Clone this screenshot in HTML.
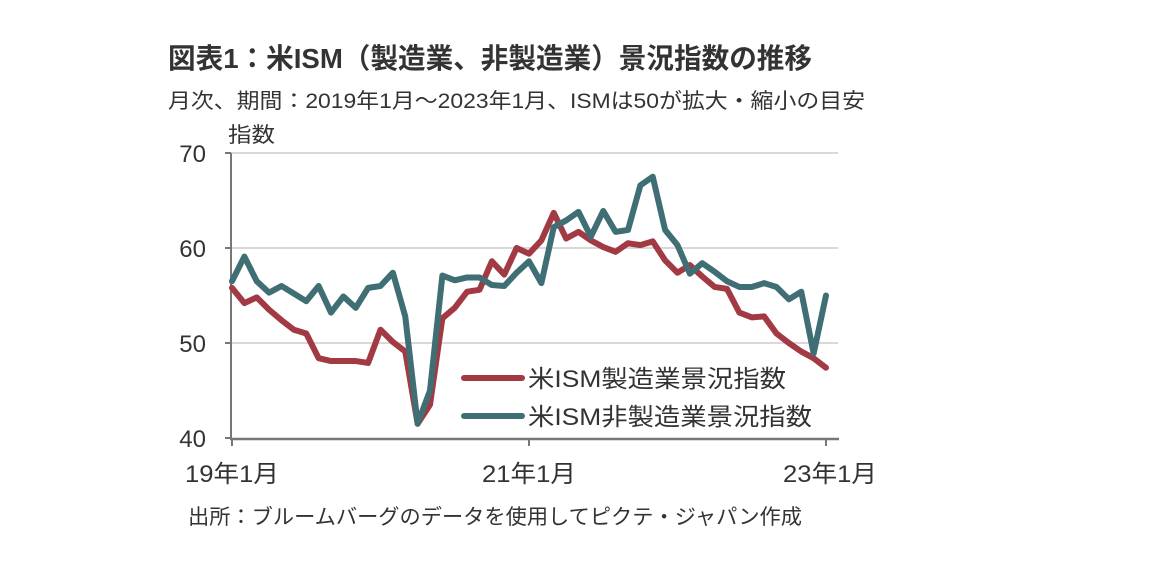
<!DOCTYPE html>
<html><head><meta charset="utf-8"><style>
html,body{margin:0;padding:0;background:#fff;width:1152px;height:580px;overflow:hidden}
svg{display:block}
text{font-family:"Liberation Sans","Noto Sans CJK JP",sans-serif;fill:#333}
</style></head><body>
<svg id="chart" width="1152" height="580">
<text x="168" y="68" font-size="28" font-weight="bold" textLength="644" lengthAdjust="spacingAndGlyphs">図表1：米ISM（製造業、非製造業）景況指数の推移</text>
<text x="168" y="108" font-size="21" textLength="697" lengthAdjust="spacingAndGlyphs">月次、期間：2019年1月～2023年1月、ISMは50が拡大・縮小の目安</text>
<text x="228" y="142" font-size="21" textLength="47" lengthAdjust="spacingAndGlyphs">指数</text>
<g id="grid"></g><g id="axes"></g><g id="lines"></g>
<g>
<line x1="464" y1="378" x2="522" y2="378" stroke="#a23a44" stroke-width="6" stroke-linecap="round"/>
<text x="528" y="387" font-size="24" textLength="258" lengthAdjust="spacingAndGlyphs">米ISM製造業景況指数</text>
<line x1="464" y1="416" x2="522" y2="416" stroke="#3f6f74" stroke-width="6" stroke-linecap="round"/>
<text x="528" y="425" font-size="24" textLength="284" lengthAdjust="spacingAndGlyphs">米ISM非製造業景況指数</text>
</g>
<text x="188" y="524" font-size="21" textLength="614" lengthAdjust="spacingAndGlyphs">出所：ブルームバーグのデータを使用してピクテ・ジャパン作成</text>
</svg>
<script>
const yTicks=[40,50,60,70];
const xTickLabels=["19年1月","21年1月","23年1月"];
const xTickMonths=[0,24,48];
const manufacturing=[55.8,54.2,54.8,53.5,52.4,51.4,51.0,48.4,48.1,48.1,48.1,47.9,51.4,50.1,49.1,41.5,43.5,52.6,53.7,55.4,55.6,58.6,57.2,60.0,59.4,60.8,63.7,61.0,61.7,60.8,60.1,59.6,60.5,60.3,60.7,58.7,57.4,58.2,57.0,55.9,55.7,53.2,52.7,52.8,51.0,50.0,49.1,48.4,47.4];
const services=[56.5,59.1,56.5,55.3,56.0,55.2,54.4,56.0,53.2,54.9,53.7,55.8,56.0,57.4,52.8,41.5,45.0,57.1,56.6,56.9,56.9,56.1,56.0,57.4,58.6,56.3,62.2,62.9,63.8,61.2,63.9,61.7,61.9,66.6,67.5,61.9,60.3,57.3,58.4,57.5,56.5,55.9,55.9,56.3,55.9,54.6,55.4,48.9,55.0];
const NS="http://www.w3.org/2000/svg";
const X0=232,XS=(826-232)/48,Y0=438,YS=9.5;
const xs=m=>X0+m*XS, ys=v=>Y0-(v-40)*YS;
function mk(t,a,p){const e=document.createElementNS(NS,t);for(const k in a)e.setAttribute(k,a[k]);p.appendChild(e);return e;}
const grid=document.getElementById('grid'),axes=document.getElementById('axes'),lines=document.getElementById('lines');
yTicks.forEach(v=>{
  if(v>40){const g=mk('line',{x1:231,x2:838,y1:ys(v),y2:ys(v),stroke:'#d9d9d9','stroke-width':2},grid);
  
  }
  const tk=mk('line',{x1:225,x2:231,y1:ys(v),y2:ys(v),stroke:'#777','stroke-width':2},axes);
  
  
  const t=mk('text',{x:206,y:ys(v)+9,'font-size':24,'text-anchor':'end'},axes);t.textContent=v;
  
  
});
const ya=mk('line',{x1:231,x2:231,y1:153,y2:439,stroke:'#777','stroke-width':2},axes);


const xa=mk('line',{x1:230,x2:839,y1:439,y2:439,stroke:'#777','stroke-width':2.5},axes);


xTickMonths.forEach((m,i)=>{
  const tk=mk('line',{x1:xs(m),x2:xs(m),y1:439,y2:446,stroke:'#777','stroke-width':2},axes);
  
  
  const t=mk('text',{x:xs(m)+(i==2?4:0),y:482,'font-size':24,'text-anchor':'middle',textLength:94,lengthAdjust:'spacingAndGlyphs'},axes);t.textContent=xTickLabels[i];
  
  
});
function series(arr,color,name){
  const p=mk('polyline',{points:arr.map((v,i)=>xs(i)+','+ys(v)).join(' '),fill:'none',stroke:color,'stroke-width':6,'stroke-linejoin':'round','stroke-linecap':'round'},lines);
  
  
}
series(manufacturing,'#a23a44','manufacturing-line');
series(services,'#3f6f74','services-line');
</script>
</body></html>
